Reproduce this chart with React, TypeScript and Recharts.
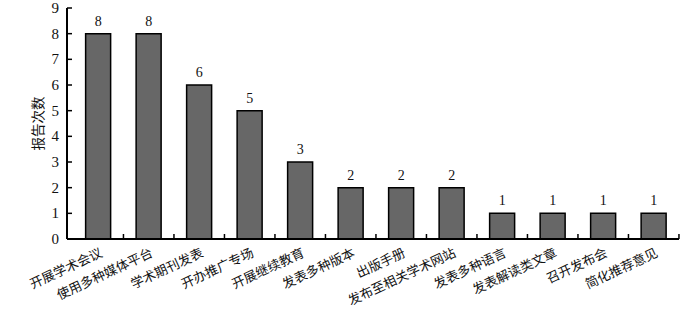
import { BarChart, Bar, XAxis, YAxis, LabelList } from "recharts";

const categories = [
  "开展学术会议",
  "使用多种媒体平台",
  "学术期刊发表",
  "开办推广专场",
  "开展继续教育",
  "发表多种版本",
  "出版手册",
  "发布至相关学术网站",
  "发表多种语言",
  "发表解读类文章",
  "召开发布会",
  "简化推荐意见",
];
const counts = [8, 8, 6, 5, 3, 2, 2, 2, 1, 1, 1, 1];
const yTicks = [0, 1, 2, 3, 4, 5, 6, 7, 8, 9];

const data = categories.map((name, i) => ({ name, count: counts[i] }));

const serif = "'Liberation Serif', 'DejaVu Serif', serif";
const cjk = "'Noto Sans CJK SC', sans-serif";

const PLOT_LEFT = 73;
const PLOT_RIGHT = 678;
const BAND = (PLOT_RIGHT - PLOT_LEFT) / categories.length;

function XTick(props: any) {
  const { x, y, payload } = props;
  const tx = x + 5;
  const ty = y + 17;
  return (
    <g>
      <line x1={x + BAND / 2} y1={y} x2={x + BAND / 2} y2={y - 5} stroke="#000" strokeWidth={1.5} />
      <text
        x={tx}
        y={ty}
        textAnchor="end"
        fontFamily={cjk}
        fontSize={13}
        fill="#111"
        transform={`rotate(-25, ${tx}, ${ty})`}
      >
        {payload.value}
      </text>
    </g>
  );
}

function YTick(props: any) {
  const { x, y, payload } = props;
  const ax = x + 6;
  return (
    <g>
      <line x1={ax} y1={y} x2={ax + 5} y2={y} stroke="#000" strokeWidth={1.5} />
      <text x={x - 2} y={y + 5} textAnchor="end" fontFamily={serif} fontSize={15} fill="#111">
        {payload.value}
      </text>
    </g>
  );
}

export default function App() {
  return (
    <div style={{ position: "absolute", left: 0, top: 0, width: 700, height: 310, background: "#fff" }}>
      <BarChart
        width={700}
        height={310}
        data={data}
        margin={{ top: 8, right: 21, bottom: 0, left: 0 }}
        barCategoryGap="25%"
      >
        <XAxis
          dataKey="name"
          interval={0}
          height={71}
          tickSize={0}
          tickMargin={0}
          tickLine={false}
          padding={{ left: 6, right: 0 }}
          axisLine={{ stroke: "#000", strokeWidth: 2 }}
          tick={<XTick />}
        />
        <YAxis
          width={67}
          domain={[0, 9]}
          ticks={yTicks}
          interval={0}
          tickSize={0}
          tickMargin={6}
          tickLine={false}
          axisLine={{ stroke: "#000", strokeWidth: 2 }}
          tick={<YTick />}
          label={{
            value: "报告次数",
            angle: -90,
            position: "insideLeft",
            offset: 38,
            style: { fontFamily: cjk, fontSize: 13.5, fill: "#111", textAnchor: "middle" },
          }}
        />
        <Bar dataKey="count" fill="#676767" stroke="#000" strokeWidth={1.5} isAnimationActive={false}>
          <LabelList
            dataKey="count"
            position="top"
            offset={8}
            style={{ fontFamily: serif, fontSize: 14, fill: "#111" }}
          />
        </Bar>
      </BarChart>
    </div>
  );
}
